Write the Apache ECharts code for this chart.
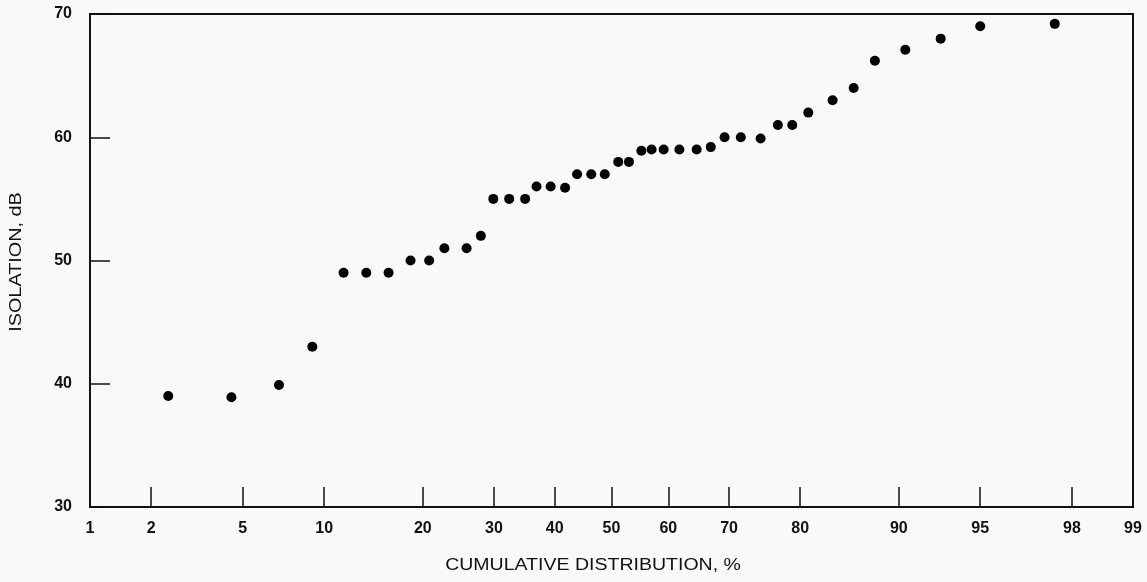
<!DOCTYPE html>
<html>
<head>
<meta charset="utf-8">
<script src="https://cdn.jsdelivr.net/npm/echarts@6/dist/echarts.min.js"></script>
<style>
html,body{margin:0;padding:0;background:#f9f9f9;}
#chart{width:1147px;height:582px;}
</style>
</head>
<body>
<div id="chart"></div>
<script>
// Tick labels of the normal-probability x axis (percent)
const xTickLabels = [1, 2, 5, 10, 20, 30, 40, 50, 60, 70, 80, 90, 95, 98, 99];
const yTickValues = [30, 40, 50, 60, 70];
const xTitle = 'CUMULATIVE DISTRIBUTION, %';
const yTitle = 'ISOLATION, dB';

// Cumulative distribution (%) of each measured point
const cumPct = [2.4, 4.5, 6.9, 9.1, 11.6, 13.7, 16.0, 18.5, 20.8, 22.8,
                25.9, 28.0, 29.9, 32.4, 35.0, 36.9, 39.3, 41.8, 43.9, 46.4,
                48.8, 51.2, 53.1, 55.3, 57.1, 59.2, 61.9, 64.8, 67.1, 69.3,
                71.8, 74.7, 77.1, 79.0, 81.0, 83.8, 86.0, 88.0, 90.5, 92.9,
                95.0, 97.6];
// Isolation (dB)
const isoDb = [39.0, 38.9, 39.9, 43.0, 49.0, 49.0, 49.0, 50.0, 50.0, 51.0,
               51.0, 52.0, 55.0, 55.0, 55.0, 56.0, 56.0, 55.9, 57.0, 57.0,
               57.0, 58.0, 58.0, 58.9, 59.0, 59.0, 59.0, 59.0, 59.2, 60.0,
               60.0, 59.9, 61.0, 61.0, 62.0, 63.0, 64.0, 66.2, 67.1, 68.0,
               69.0, 69.2];

// Inverse standard normal CDF (probability-paper scale)
function probit(p) {
  const a = [-3.969683028665376e+01, 2.209460984245205e+02, -2.759285104469687e+02,
             1.383577518672690e+02, -3.066479806614716e+01, 2.506628277459239e+00];
  const b = [-5.447609879822406e+01, 1.615858368580409e+02, -1.556989798598866e+02,
             6.680131188771972e+01, -1.328068155288572e+01];
  const c = [-7.784894002430293e-03, -3.223964580411365e-01, -2.400758277161838e+00,
             -2.549732539343734e+00, 4.374664141464968e+00, 2.938163982698783e+00];
  const d = [7.784695709041462e-03, 3.224671290700398e-01, 2.445134137142996e+00,
             3.754408661907416e+00];
  const pl = 0.02425, ph = 1 - pl;
  let q, r;
  if (p < pl) {
    q = Math.sqrt(-2 * Math.log(p));
    return (((((c[0]*q+c[1])*q+c[2])*q+c[3])*q+c[4])*q+c[5]) /
           ((((d[0]*q+d[1])*q+d[2])*q+d[3])*q+1);
  } else if (p <= ph) {
    q = p - 0.5; r = q * q;
    return (((((a[0]*r+a[1])*r+a[2])*r+a[3])*r+a[4])*r+a[5])*q /
           (((((b[0]*r+b[1])*r+b[2])*r+b[3])*r+b[4])*r+1);
  } else {
    q = Math.sqrt(-2 * Math.log(1 - p));
    return -(((((c[0]*q+c[1])*q+c[2])*q+c[3])*q+c[4])*q+c[5]) /
            ((((d[0]*q+d[1])*q+d[2])*q+d[3])*q+1);
  }
}
const toZ = pct => probit(pct / 100);

const points = cumPct.map((p, i) => [toZ(p), isoDb[i]]);
const labelZ = xTickLabels.map(toZ);
const tickZ = xTickLabels.slice(1, -1).map(toZ);
const xMin = toZ(xTickLabels[0]);
const xMax = toZ(xTickLabels[xTickLabels.length - 1]);

const FONT = '"Liberation Sans", Arial, Helvetica, sans-serif';
const INK = '#111';

const chart = echarts.init(document.getElementById('chart'), null, {renderer: 'canvas'});
chart.setOption({
  backgroundColor: '#f9f9f9',
  animation: false,
  grid: {
    left: 90, right: 14, top: 14, bottom: 75,
    show: true, borderColor: INK, borderWidth: 2, backgroundColor: 'transparent'
  },
  graphic: [
    {
      type: 'text', x: 593, y: 566, scaleX: 1.22,
      style: {text: xTitle, font: '16px ' + FONT, fill: INK, align: 'center', verticalAlign: 'middle'}
    },
    {
      type: 'text', x: 17, y: 262, rotation: Math.PI / 2, scaleX: 1.24,
      style: {text: yTitle, font: '16px ' + FONT, fill: INK, align: 'center', verticalAlign: 'middle'}
    }
  ],
  xAxis: {
    type: 'value',
    min: xMin, max: xMax,
    axisLine: {show: true, onZero: false, lineStyle: {color: INK, width: 2}},
    axisTick: {show: true, inside: true, length: 20, customValues: tickZ,
               lineStyle: {color: INK, width: 1.5}},
    axisLabel: {
      show: true, margin: 14, customValues: labelZ,
      fontFamily: FONT, fontSize: 16, fontWeight: 'bold', color: INK,
      formatter: function (v) {
        let best = 0, bd = Infinity;
        labelZ.forEach((z, i) => { const dd = Math.abs(z - v); if (dd < bd) { bd = dd; best = i; } });
        return String(xTickLabels[best]);
      }
    },
    splitLine: {show: false}
  },
  yAxis: {
    type: 'value',
    min: 30, max: 70, interval: 10,
    axisLine: {show: true, onZero: false, lineStyle: {color: INK, width: 2}},
    axisTick: {show: true, inside: true, length: 20, lineStyle: {color: INK, width: 1.5}},
    axisLabel: {show: true, margin: 18, fontFamily: FONT, fontSize: 16, fontWeight: 'bold', color: INK,
                customValues: yTickValues},
    splitLine: {show: false}
  },
  series: [{
    type: 'scatter',
    data: points,
    symbol: 'circle',
    symbolSize: 10,
    itemStyle: {color: '#000', opacity: 1}
  }]
});
</script>
</body>
</html>
